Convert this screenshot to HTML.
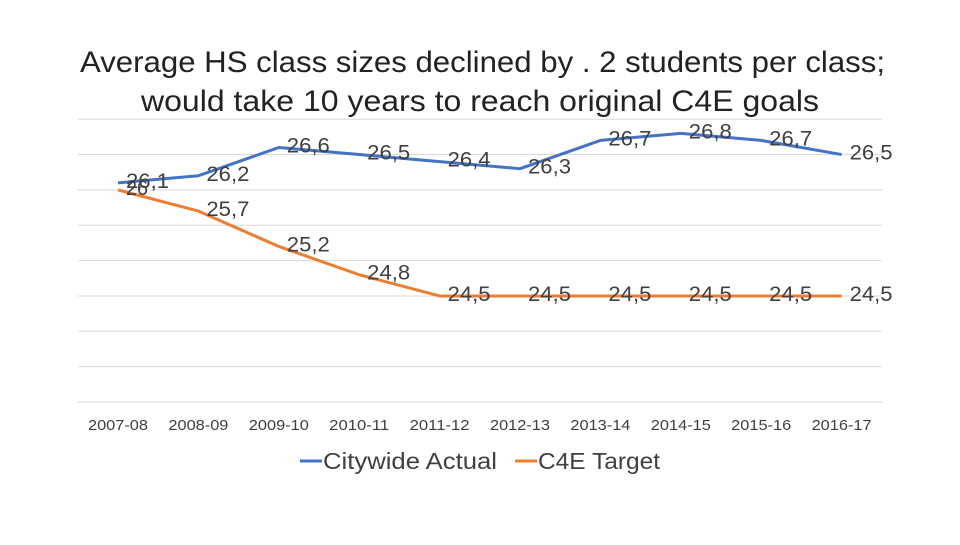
<!DOCTYPE html>
<html><head><meta charset="utf-8"><style>
body{margin:0;background:#fff;width:960px;height:540px;overflow:hidden;font-family:"Liberation Sans",sans-serif}
</style></head><body>
<svg id="c" width="960" height="540">
<text x="80" y="72" textLength="805" lengthAdjust="spacingAndGlyphs" font-size="30" fill="#222">Average HS class sizes declined by . 2 students per class;</text>
<text x="141" y="111" textLength="678" lengthAdjust="spacingAndGlyphs" font-size="30" fill="#222">would take 10 years to reach original C4E goals</text>
<g id="grid"></g><g id="xt"></g><g id="lines"></g><g id="labels"></g>
<g>
<line x1="300" y1="461" x2="322" y2="461" stroke="#4472C4" stroke-width="3"/>
<text x="323" y="469" textLength="174" lengthAdjust="spacingAndGlyphs" font-size="23" fill="#404040">Citywide Actual</text>
<line x1="515" y1="461" x2="537" y2="461" stroke="#ED7D31" stroke-width="3"/>
<text x="538" y="469" textLength="122" lengthAdjust="spacingAndGlyphs" font-size="23" fill="#404040">C4E Target</text>
</g>
</svg>
<script>
const categories=["2007-08","2008-09","2009-10","2010-11","2011-12","2012-13","2013-14","2014-15","2015-16","2016-17"];
const actual=[26.1,26.2,26.6,26.5,26.4,26.3,26.7,26.8,26.7,26.5];
const target=[26,25.7,25.2,24.8,24.5,24.5,24.5,24.5,24.5,24.5];
const yTicks=[23,23.5,24,24.5,25,25.5,26,26.5,27];
const NS="http://www.w3.org/2000/svg";
const x=i=>118+i*80.4;
const y=v=>402-(v-23)*70.7;
function mk(t,a,p){const e=document.createElementNS(NS,t);for(const k in a)e.setAttribute(k,a[k]);p.appendChild(e);return e;}
const g=document.getElementById('grid');
yTicks.forEach(v=>{const l=mk('line',{x1:78,x2:882,y1:y(v),y2:y(v),stroke:'#d9d9d9','stroke-width':1},g);

});
const xt=document.getElementById('xt');
categories.forEach((c,i)=>{const t=mk('text',{x:x(i),y:430,'text-anchor':'middle','font-size':15,fill:'#404040',textLength:60,lengthAdjust:'spacingAndGlyphs'},xt);t.textContent=c;

});
const L=document.getElementById('lines'),Lb=document.getElementById('labels');
function series(d,col,name,fmt){
const p=mk('polyline',{points:d.map((v,i)=>x(i)+','+y(v)).join(' '),fill:'none',stroke:col,'stroke-width':3,'stroke-linejoin':'round'},L);


d.forEach((v,i)=>{const s=fmt(v);const t=mk('text',{x:x(i)+8,y:y(v)+5,'font-size':21,fill:'#404040',textLength:s.length>2?43:22,lengthAdjust:'spacingAndGlyphs'},Lb);
t.textContent=s;

});
}
const f=v=>String(v).replace('.',',');
series(target,'#ED7D31','c4e-target',f);
series(actual,'#4472C4','citywide-actual',f);
</script>
</body></html>
